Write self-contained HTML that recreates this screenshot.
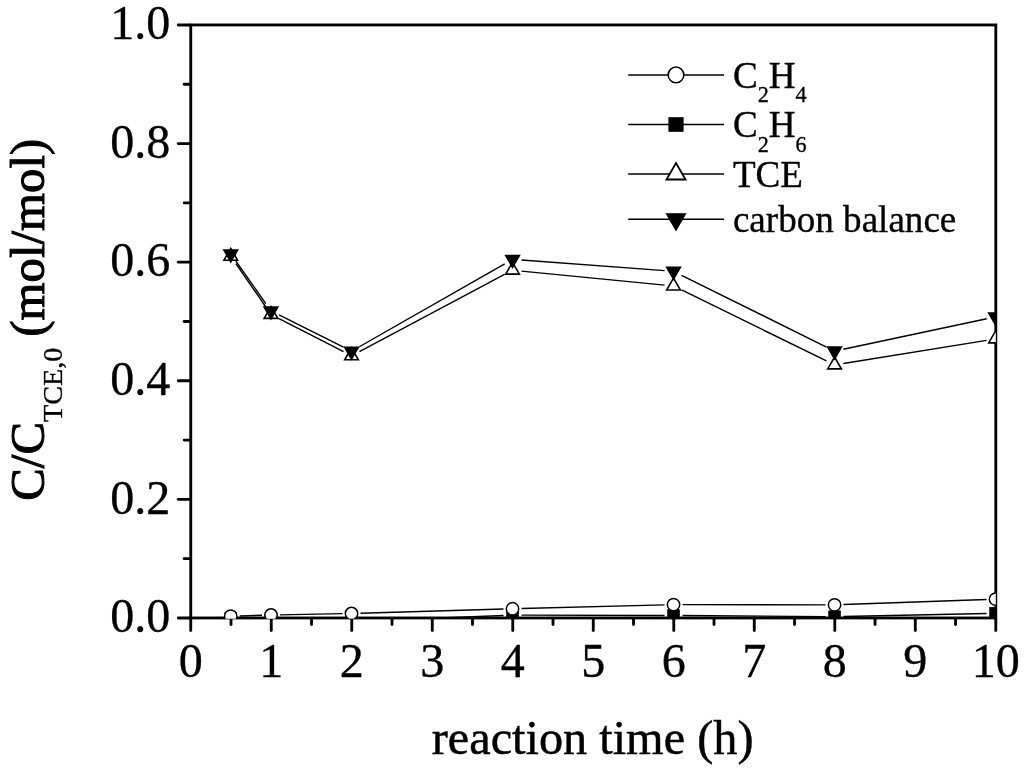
<!DOCTYPE html>
<html><head><meta charset="utf-8"><style>html,body{margin:0;padding:0;background:#fff;}svg{display:block;filter:grayscale(1);}text{font-family:"Liberation Serif",serif;}</style></head>
<body><svg width="1024" height="770" viewBox="0 0 1024 770"><defs><clipPath id="pc"><rect x="190.75" y="24.95" width="805.05" height="593.81"/></clipPath></defs><rect x="190.75" y="24.95" width="805.05" height="593.01" fill="none" stroke="#000" stroke-width="2.85"/><g stroke="#000" stroke-width="2.85" stroke-linecap="round"><line x1="189.45" y1="617.96" x2="178.25" y2="617.96"/><line x1="189.45" y1="558.66" x2="184.15" y2="558.66"/><line x1="189.45" y1="499.36" x2="178.25" y2="499.36"/><line x1="189.45" y1="440.06" x2="184.15" y2="440.06"/><line x1="189.45" y1="380.76" x2="178.25" y2="380.76"/><line x1="189.45" y1="321.46" x2="184.15" y2="321.46"/><line x1="189.45" y1="262.15" x2="178.25" y2="262.15"/><line x1="189.45" y1="202.85" x2="184.15" y2="202.85"/><line x1="189.45" y1="143.55" x2="178.25" y2="143.55"/><line x1="189.45" y1="84.25" x2="184.15" y2="84.25"/><line x1="189.45" y1="24.95" x2="178.25" y2="24.95"/><line x1="190.75" y1="619.26" x2="190.75" y2="630.46"/><line x1="231.00" y1="619.26" x2="231.00" y2="624.56"/><line x1="271.25" y1="619.26" x2="271.25" y2="630.46"/><line x1="311.51" y1="619.26" x2="311.51" y2="624.56"/><line x1="351.76" y1="619.26" x2="351.76" y2="630.46"/><line x1="392.01" y1="619.26" x2="392.01" y2="624.56"/><line x1="432.26" y1="619.26" x2="432.26" y2="630.46"/><line x1="472.52" y1="619.26" x2="472.52" y2="624.56"/><line x1="512.77" y1="619.26" x2="512.77" y2="630.46"/><line x1="553.02" y1="619.26" x2="553.02" y2="624.56"/><line x1="593.27" y1="619.26" x2="593.27" y2="630.46"/><line x1="633.53" y1="619.26" x2="633.53" y2="624.56"/><line x1="673.78" y1="619.26" x2="673.78" y2="630.46"/><line x1="714.03" y1="619.26" x2="714.03" y2="624.56"/><line x1="754.28" y1="619.26" x2="754.28" y2="630.46"/><line x1="794.54" y1="619.26" x2="794.54" y2="624.56"/><line x1="834.79" y1="619.26" x2="834.79" y2="630.46"/><line x1="875.04" y1="619.26" x2="875.04" y2="624.56"/><line x1="915.29" y1="619.26" x2="915.29" y2="630.46"/><line x1="955.55" y1="619.26" x2="955.55" y2="624.56"/><line x1="995.80" y1="619.26" x2="995.80" y2="630.46"/></g><g clip-path="url(#pc)"><g stroke="#000" stroke-width="1.4" fill="none"><line x1="239.75" y1="618.30" x2="262.00" y2="618.30"/><line x1="280.00" y1="618.66" x2="342.52" y2="621.14"/><line x1="360.50" y1="621.14" x2="503.53" y2="615.46"/><line x1="521.52" y1="615.12" x2="664.53" y2="615.48"/><line x1="682.53" y1="615.57" x2="825.54" y2="616.63"/><line x1="843.54" y1="616.51" x2="986.55" y2="613.49"/></g><g stroke="#000" stroke-width="1.4" fill="none"><line x1="239.75" y1="615.93" x2="262.01" y2="615.27"/><line x1="280.00" y1="614.83" x2="342.51" y2="613.67"/><line x1="360.51" y1="613.24" x2="503.52" y2="609.06"/><line x1="521.52" y1="608.57" x2="664.53" y2="604.83"/><line x1="682.53" y1="604.61" x2="825.54" y2="604.84"/><line x1="843.53" y1="604.53" x2="986.56" y2="599.47"/></g><g stroke="#000" stroke-width="1.4" fill="none"><line x1="235.88" y1="263.70" x2="265.88" y2="307.00"/><line x1="279.01" y1="318.52" x2="343.51" y2="351.68"/><line x1="359.46" y1="351.58" x2="504.57" y2="274.42"/><line x1="521.48" y1="271.08" x2="664.57" y2="285.12"/><line x1="681.61" y1="289.96" x2="826.46" y2="360.94"/><line x1="843.42" y1="363.47" x2="986.67" y2="340.33"/></g><g stroke="#000" stroke-width="1.4" fill="none"><line x1="235.94" y1="261.25" x2="265.81" y2="303.55"/><line x1="279.05" y1="314.93" x2="343.46" y2="347.17"/><line x1="359.33" y1="346.74" x2="504.70" y2="263.86"/><line x1="521.50" y1="260.06" x2="664.55" y2="270.64"/><line x1="681.59" y1="275.30" x2="826.48" y2="347.10"/><line x1="843.34" y1="349.23" x2="986.75" y2="318.77"/></g><g fill="#000" stroke="#000" stroke-width="0.8"><rect x="224.95" y="612.50" width="11.6" height="11.6"/><rect x="265.20" y="612.50" width="11.6" height="11.6"/><rect x="345.71" y="615.70" width="11.6" height="11.6"/><rect x="506.72" y="609.30" width="11.6" height="11.6"/><rect x="667.73" y="609.70" width="11.6" height="11.6"/><rect x="828.74" y="610.90" width="11.6" height="11.6"/><rect x="989.75" y="607.50" width="11.6" height="11.6"/></g><g fill="#fff" stroke="#000" stroke-width="1.5"><circle cx="230.75" cy="616.20" r="6.2"/><circle cx="271.00" cy="615.00" r="6.2"/><circle cx="351.51" cy="613.50" r="6.2"/><circle cx="512.52" cy="608.80" r="6.2"/><circle cx="673.53" cy="604.60" r="6.2"/><circle cx="834.54" cy="604.85" r="6.2"/><circle cx="995.55" cy="599.15" r="6.2"/></g><g fill="#fff" stroke="#000" stroke-width="1.6" stroke-linejoin="miter"><path d="M230.75,248.40 L237.59,260.25 L223.91,260.25 Z"/><path d="M271.00,306.50 L277.85,318.35 L264.16,318.35 Z"/><path d="M351.51,347.90 L358.35,359.75 L344.67,359.75 Z"/><path d="M512.52,262.30 L519.36,274.15 L505.68,274.15 Z"/><path d="M673.53,278.10 L680.37,289.95 L666.69,289.95 Z"/><path d="M834.54,357.00 L841.38,368.85 L827.70,368.85 Z"/><path d="M995.55,331.00 L1002.39,342.85 L988.71,342.85 Z"/></g><g fill="#000" stroke="#000" stroke-width="1.6" stroke-linejoin="miter"><path d="M230.75,261.80 L237.59,249.95 L223.91,249.95 Z"/><path d="M271.00,318.80 L277.85,306.95 L264.16,306.95 Z"/><path d="M351.51,359.10 L358.35,347.25 L344.67,347.25 Z"/><path d="M512.52,267.30 L519.36,255.45 L505.68,255.45 Z"/><path d="M673.53,279.20 L680.37,267.35 L666.69,267.35 Z"/><path d="M834.54,359.00 L841.38,347.15 L827.70,347.15 Z"/><path d="M995.55,324.80 L1002.39,312.95 L988.71,312.95 Z"/></g></g><g font-family="Liberation Serif" font-size="49.6" fill="#000" stroke="#000" stroke-width="0.35"><text transform="translate(170.3,632.16) scale(0.97,1)" text-anchor="end">0.0</text><text transform="translate(170.3,513.56) scale(0.97,1)" text-anchor="end">0.2</text><text transform="translate(170.3,394.96) scale(0.97,1)" text-anchor="end">0.4</text><text transform="translate(170.3,276.35) scale(0.97,1)" text-anchor="end">0.6</text><text transform="translate(170.3,157.75) scale(0.97,1)" text-anchor="end">0.8</text><text transform="translate(170.3,39.15) scale(0.97,1)" text-anchor="end">1.0</text><text transform="translate(190.75,677.0) scale(0.97,1)" text-anchor="middle">0</text><text transform="translate(271.25,677.0) scale(0.97,1)" text-anchor="middle">1</text><text transform="translate(351.76,677.0) scale(0.97,1)" text-anchor="middle">2</text><text transform="translate(432.26,677.0) scale(0.97,1)" text-anchor="middle">3</text><text transform="translate(512.77,677.0) scale(0.97,1)" text-anchor="middle">4</text><text transform="translate(593.27,677.0) scale(0.97,1)" text-anchor="middle">5</text><text transform="translate(673.78,677.0) scale(0.97,1)" text-anchor="middle">6</text><text transform="translate(754.28,677.0) scale(0.97,1)" text-anchor="middle">7</text><text transform="translate(834.79,677.0) scale(0.97,1)" text-anchor="middle">8</text><text transform="translate(915.29,677.0) scale(0.97,1)" text-anchor="middle">9</text><text transform="translate(995.80,677.0) scale(0.97,1)" text-anchor="middle">10</text></g><text transform="translate(592.6,753.5) scale(0.994,1)" text-anchor="middle" font-family="Liberation Serif" font-size="48.6" stroke="#000" stroke-width="0.5">reaction time (h)</text><text transform="translate(44.4,500.7) rotate(-90)" font-family="Liberation Serif" font-size="48.8" stroke="#000" stroke-width="1.0">C/C<tspan font-size="28.2" dy="17.8" stroke-width="0.3">TCE,0</tspan><tspan dy="-17.8" dx="-1.2"> (mol/mol)</tspan></text><line x1="628.2" y1="74.9" x2="724.1" y2="74.9" stroke="#000" stroke-width="1.5"/><line x1="628.2" y1="124.5" x2="724.1" y2="124.5" stroke="#000" stroke-width="1.5"/><line x1="628.2" y1="174.0" x2="724.1" y2="174.0" stroke="#000" stroke-width="1.5"/><line x1="628.2" y1="219.3" x2="724.1" y2="219.3" stroke="#000" stroke-width="1.5"/><circle cx="676.0" cy="74.9" r="7.8" fill="#fff" stroke="#000" stroke-width="1.5"/><rect x="668.40" y="117.20" width="15.2" height="14.6" fill="#000"/><path d="M676.00,163.00 L685.53,179.50 L666.47,179.50 Z" fill="#fff" stroke="#000" stroke-width="1.8"/><path d="M676.00,230.30 L685.53,213.80 L666.47,213.80 Z" fill="#000" stroke="#000" stroke-width="1.2"/><text transform="translate(732.9,87.7) scale(0.966,1)" font-family="Liberation Serif" font-size="38.4" stroke="#000" stroke-width="0.35">C<tspan font-size="23" dy="14.4">2</tspan><tspan dy="-14.4">H</tspan><tspan font-size="23" dy="14.4">4</tspan></text><text transform="translate(732.9,137.3) scale(0.966,1)" font-family="Liberation Serif" font-size="38.4" stroke="#000" stroke-width="0.35">C<tspan font-size="23" dy="14.4">2</tspan><tspan dy="-14.4">H</tspan><tspan font-size="23" dy="14.4">6</tspan></text><text transform="translate(732.9,186.9) scale(0.966,1)" font-family="Liberation Serif" font-size="38.4" stroke="#000" stroke-width="0.35">TCE</text><text transform="translate(732.9,231.9) scale(0.966,1)" font-family="Liberation Serif" font-size="38.4" stroke="#000" stroke-width="0.35">carbon balance</text></svg></body></html>
